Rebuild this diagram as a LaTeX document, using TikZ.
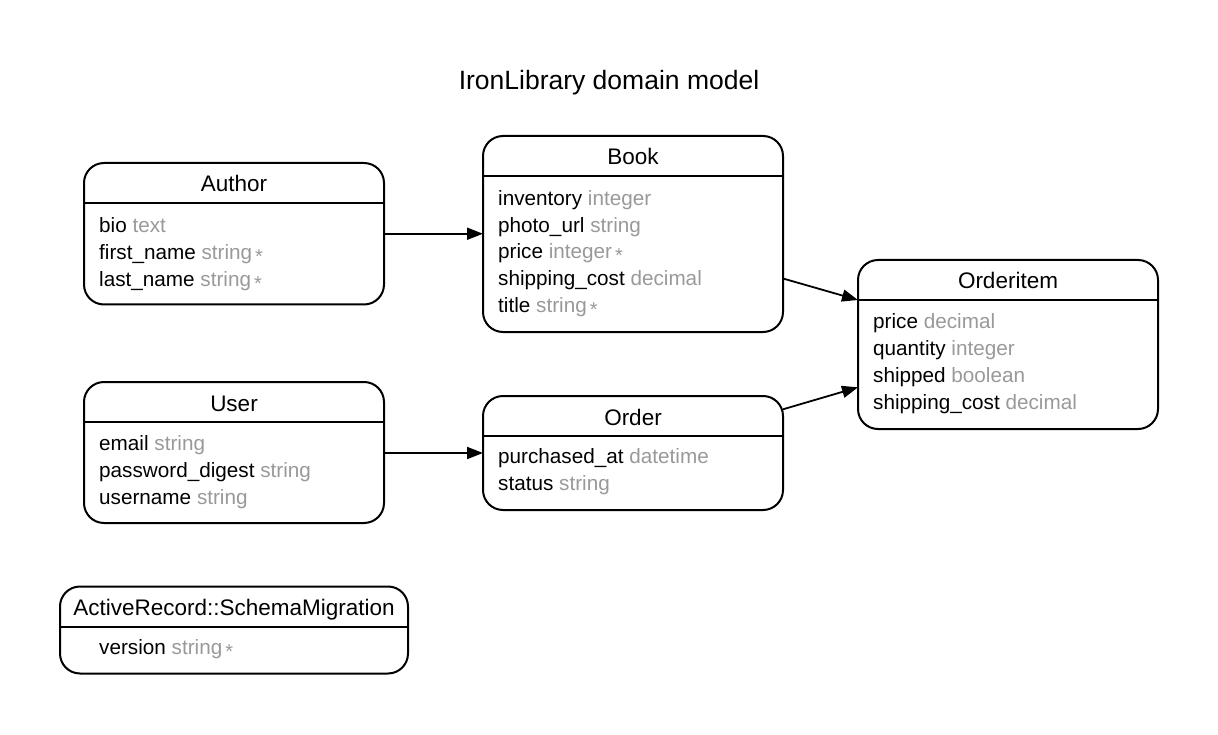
\documentclass[tikz,border=0pt]{standalone}
\usepackage{fontspec}
\setmainfont{Liberation Sans}
\usetikzlibrary{arrows.meta,calc}
\definecolor{typegray}{RGB}{153,153,153}
\tikzset{
  erbox/.style={draw=black, line width=2pt, rounded corners=20pt, inner sep=0pt, outer sep=0pt},
  hdr/.style={inner sep=0pt, font=\fontsize{22.5}{26}\selectfont},
  attr/.style={inner sep=0pt, anchor=base west, font=\fontsize{20.7}{24}\selectfont},
  sepline/.style={line width=2pt},
  rel/.style={line width=1.8pt, -{Triangle[length=16pt,width=12pt]}},
  ttl/.style={inner sep=0pt, anchor=base, font=\fontsize{26.5}{30}\selectfont}
}
\newcommand{\ty}[1]{\textcolor{typegray}{#1}}
\newcommand{\req}{\textcolor{typegray}{\hspace{3pt}{\fontsize{20}{20}\selectfont\raisebox{-4pt}{*}}}}
% #1 name, #2 left, #3 top, #4 right, #5 bottom, #6 title
\newcommand{\erbox}[6]{%
  \node[erbox, minimum width={#4-#2}, minimum height={#5-#3}] (#1) at ({(#2+#4)/2},{(#3+#5)/2}) {};
  \node[hdr, anchor=base] (#1-title) at ({(#2+#4)/2},{#3+29}) {#6};
  \draw[sepline] ($(#1.north west)+(0,40)$) -- ($(#1.north east)+(0,40)$);
}
\begin{document}
\begin{tikzpicture}[x=1pt,y=-1pt]
\useasboundingbox (0,0) rectangle (1218,735);

\node[ttl] (title) at (609,89.3) {IronLibrary domain model};

% Author
\erbox{author}{84}{163}{384}{304.5}{Author}
\node[attr] (author-a1) at (99,232.5) {bio \ty{text}};
\node[attr] (author-a2) at (99,259.3) {first\_name \ty{string}\req};
\node[attr] (author-a3) at (99,286.1) {last\_name \ty{string}\req};

% Book
\erbox{book}{483}{136}{783}{332}{Book}
\node[attr] (book-a1) at (498,205.3) {inventory \ty{integer}};
\node[attr] (book-a2) at (498,232.1) {photo\_url \ty{string}};
\node[attr] (book-a3) at (498,258.9) {price \ty{integer}\req};
\node[attr] (book-a4) at (498,285.7) {shipping\_cost \ty{decimal}};
\node[attr] (book-a5) at (498,312.5) {title \ty{string}\req};

% Orderitem
\erbox{orderitem}{858}{260}{1158}{429}{Orderitem}
\node[attr] (oi-a1) at (873,328.3) {price \ty{decimal}};
\node[attr] (oi-a2) at (873,355.3) {quantity \ty{integer}};
\node[attr] (oi-a3) at (873,382.3) {shipped \ty{boolean}};
\node[attr] (oi-a4) at (873,409.3) {shipping\_cost \ty{decimal}};

% User
\erbox{user}{84}{382}{384}{523}{User}
\node[attr] (user-a1) at (99,450.5) {email \ty{string}};
\node[attr] (user-a2) at (99,477.5) {password\_digest \ty{string}};
\node[attr] (user-a3) at (99,504.5) {username \ty{string}};

% Order
\erbox{order}{483}{396}{783}{510}{Order}
\node[attr] (order-a1) at (498,463.3) {purchased\_at \ty{datetime}};
\node[attr] (order-a2) at (498,490.3) {status \ty{string}};

% SchemaMigration
\erbox{schema}{60}{586.5}{408}{673.5}{ActiveRecord::SchemaMigration}
\node[attr] (schema-a1) at (99,654.5) {version \ty{string}\req};

% Relations
\draw[rel] (author.east) -- (author.east -| book.west);
\draw[rel] ($(user.east)+(0,0.5)$) -- ($(user.east -| order.west)+(0,0.5)$);
\draw[rel] ($(book.north east)+(0,142.5)$) -- ($(orderitem.north west)+(0,40)$);
\draw[rel] ($(order.north east)+(0,13.3)$) -- ($(orderitem.north west)+(0,127.3)$);
\end{tikzpicture}
\end{document}
